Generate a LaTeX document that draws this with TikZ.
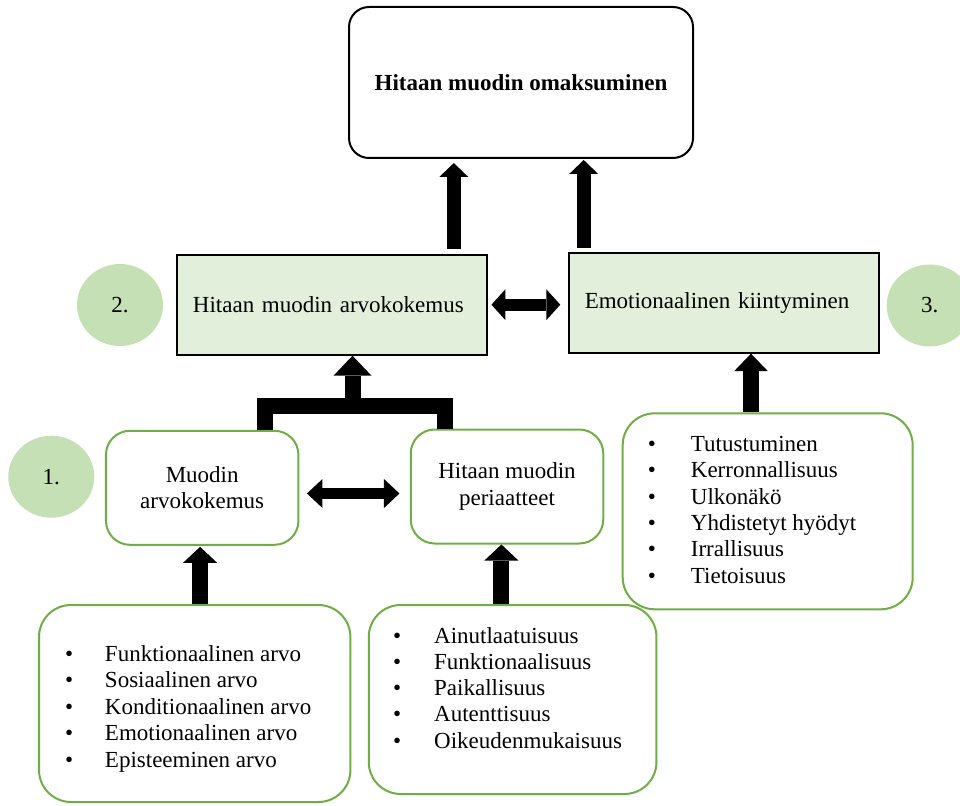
\documentclass[tikz,border=0pt]{standalone}
\usepackage{fontspec}
\setmainfont{Liberation Serif}
\usetikzlibrary{arrows.meta,shapes.geometric}

\definecolor{stagefill}{HTML}{E2EFDA}
\definecolor{dotfill}{HTML}{C5E0B4}
\definecolor{leafline}{HTML}{70AD47}

\begin{document}
\begin{tikzpicture}[x=1pt,y=-1pt,
  every node/.style={font=\fontsize{23}{26.4}\selectfont},
  goal/.style={draw=black, line width=2pt, rounded corners=20pt,
    minimum width=344pt, minimum height=151pt, inner sep=0pt,
    font=\fontsize{23}{26.4}\selectfont\bfseries},
  stage/.style={draw=black, line width=2pt, fill=stagefill,
    inner xsep=16pt, inner ysep=0pt, align=left, text width=278.5pt,
    minimum height=100pt},
  numdot/.style={ellipse, fill=dotfill, minimum width=86pt,
    minimum height=82pt, inner sep=0pt},
  factor/.style={draw=leafline, line width=2pt, rounded corners=24pt,
    align=center, inner sep=0pt, minimum width=192.5pt, minimum height=114pt},
  listbox/.style={draw=leafline, line width=2pt, rounded corners=32pt,
    inner sep=0pt},
  item/.style={anchor=base west, inner sep=0pt},
  fat/.style n args={3}{line width=#1,
    -{Triangle[width=#2,length=#3,line width=0pt 0 0]}},
  fatboth/.style n args={3}{line width=#1,
    {Triangle[width=#2,length=#3,line width=0pt 0 0]}-{Triangle[width=#2,length=#3,line width=0pt 0 0]}},
  bar/.style={line width=16pt, line join=miter}
]
\useasboundingbox (0,0) rectangle (960,805);
\clip (0,0) rectangle (960,805);

% outcome
\node[goal] (top) at (521,82.5) {Hitaan muodin omaksuminen};

% second level
\node[stage] (hma) at (332.2,304.7) {Hitaan muodin arvokokemus};
\node[stage] (emo) at (724,302.7) {Emotionaalinen kiintyminen};

% numbered markers
\node[numdot] (c1) at (51.3,476.7) {1.};
\node[numdot] (c2) at (120,305) {2.};
\node[numdot] (c3) at (929.7,305.5) {3.};

% first level
\node[factor] (mav) at (202.2,487.8) {Muodin\\arvokokemus};
\node[factor] (hmp) at (507,486.5) {Hitaan muodin\\periaatteet};

% lists
\node[listbox, minimum width=311.4pt, minimum height=197pt] (lb) at (194.7,703.5) {};
\node[listbox, minimum width=287.7pt, minimum height=189pt] (rb) at (512.6,699.5) {};
\node[listbox, minimum width=290pt, minimum height=196pt] (eb) at (767.7,511.3) {};

\foreach \t [count=\i from 0] in {Funktionaalinen arvo, Sosiaalinen arvo,
    Konditionaalinen arvo, Emotionaalinen arvo, Episteeminen arvo}
  \node[item] (lbi\i) at (64.8,661.5+26.4*\i) {\makebox[40pt][l]{\textbullet}\t};

\foreach \t [count=\i from 0] in {Ainutlaatuisuus, Funktionaalisuus,
    Paikallisuus, Autenttisuus, Oikeudenmukaisuus}
  \node[item] (rbi\i) at (393,643+26.3*\i) {\makebox[41pt][l]{\textbullet}\t};

\foreach \t [count=\i from 0] in {Tutustuminen, Kerronnallisuus, Ulkonäkö,
    Yhdistetyt hyödyt, Irrallisuus, Tietoisuus}
  \node[item] (ebi\i) at (647.7,451.5+26.3*\i) {\makebox[43pt][l]{\textbullet}\t};

% arrow positions
\coordinate (xa) at (453.8,0);
\coordinate (xb) at (583.7,0);
\coordinate (xc) at (200.1,0);
\coordinate (xd) at (501.4,0);
\coordinate (xe) at (751,0);
\coordinate (y4) at (0,493.5);
\coordinate (jl) at (265,406);
\coordinate (jr) at (444.7,406);
\coordinate (jm) at (352.5,406);

% connectors
\draw[fat={14.3pt}{29pt}{14pt}, shorten <=5pt, shorten >=4pt] (hma.north -| xa) -- (top.south -| xa);
\draw[fat={14.3pt}{29pt}{14pt}, shorten <=3.5pt, shorten >=1pt] (emo.north -| xb) -- (top.south -| xb);
\draw[fatboth={12.3pt}{31pt}{14pt}, shorten <=3pt, shorten >=7.5pt] (hma.east) -- (emo.west |- hma.east);
\draw[fatboth={11pt}{29pt}{15.5pt}, shorten <=7.5pt, shorten >=10.3pt] (mav.east |- y4) -- (hmp.west |- y4);
\draw[bar] (mav.north -| jl) -- (jl) -- (jr) -- (hmp.north -| jr);
\draw[fat={16pt}{38pt}{20pt}] (jm) -- (hma.south -| jm);
\draw[fat={16.6pt}{34pt}{16pt}, shorten >=1pt] (lb.north -| xc) -- (mav.south -| xc);
\draw[fat={16pt}{34pt}{16pt}] (rb.north -| xd) -- (hmp.south -| xd);
\draw[fat={16.6pt}{33.4pt}{17.3pt}] (eb.north -| xe) -- (emo.south -| xe);
\end{tikzpicture}
\end{document}
